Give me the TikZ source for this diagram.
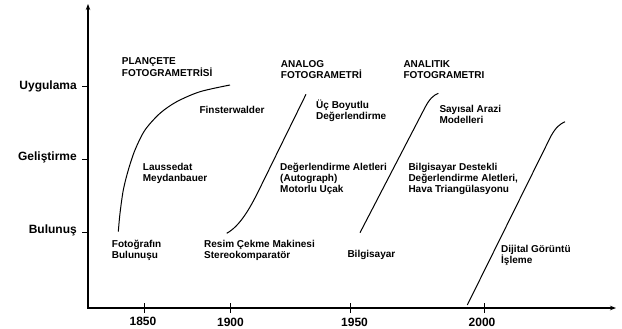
\documentclass[tikz,border=0pt]{standalone}
\usepackage{fontspec}
\setmainfont{Liberation Sans}
\usetikzlibrary{arrows.meta}
\begin{document}
\begin{tikzpicture}[x=1bp,y=-1bp,
  lbl/.style={font=\bfseries\fontsize{10bp}{11bp}\selectfont, anchor=base west, inner sep=0pt, align=left},
  head/.style={font=\bfseries\fontsize{10bp}{10.5bp}\selectfont, anchor=base west, inner sep=0pt, align=left},
  axlbl/.style={font=\bfseries\fontsize{12bp}{14bp}\selectfont, anchor=base east, inner sep=0pt},
  yr/.style={font=\bfseries\fontsize{12bp}{14bp}\selectfont, anchor=base, inner sep=0pt},
  era/.style={line width=1bp},
  axisline/.style={line width=1.3bp, {Stealth[length=6bp,width=4.5bp]}-{Stealth[length=6bp,width=4.5bp]}},
  tickmark/.style={line width=1bp}]
\useasboundingbox (0,0) rectangle (622,328);

% axes
\coordinate (ytop) at (88,4);
\coordinate (O) at (88,308);
\coordinate (xend) at (616,308);
\draw[axisline] (ytop) -- (O) -- (xend);

% y ticks
\foreach \yy in {86.7,159,232} \draw[tickmark] (82,\yy) -- (88,\yy);
% x ticks
\foreach \xx in {144,230.7,350,484} \draw[tickmark] (\xx,303) -- (\xx,313);

% axis labels
\node[axlbl] (uyg) at (77,89) {Uygulama};
\node[axlbl] (gel) at (77,160.5) {Geliştirme};
\node[axlbl] (bul) at (77,233) {Bulunuş};

\node[yr] (y1850) at (143,325.5) {1850};
\node[yr] (y1900) at (230.5,326.3) {1900};
\node[yr] (y1950) at (354.5,326.3) {1950};
\node[yr] (y2000) at (482,326.3) {2000};

% headings (base anchor = baseline of last line)
\node[head] (plan) at (121.7,76) {PLANÇETE\\FOTOGRAMETRİSİ};
\node[head] (analog) at (280.7,78.2) {ANALOG\\FOTOGRAMETRİ};
\node[head] (analitik) at (403.3,78.2) {ANALITIK\\FOTOGRAMETRI};

% inner labels
\node[lbl] (fin) at (199.3,113) {Finsterwalder};
\node[lbl] (ucb) at (316,119) {Üç Boyutlu\\Değerlendirme};
\node[lbl] (say) at (439.3,123.3) {Sayısal Arazi\\Modelleri};
\node[lbl] (lau) at (142.7,181) {Laussedat\\Meydanbauer};
\node[lbl] (deg) at (280,192.3) {Değerlendirme Aletleri\\(Autograph)\\Motorlu Uçak};
\node[lbl] (bds) at (408.3,192.3) {Bilgisayar Destekli\\Değerlendirme Aletleri,\\Hava Triangülasyonu};
\node[lbl] (fot) at (111.7,258) {Fotoğrafın\\Bulunuşu};
\node[lbl] (res) at (204,258) {Resim Çekme Makinesi\\Stereokomparatör};
\node[lbl] (bil) at (347.3,257) {Bilgisayar};
\node[lbl] (dij) at (501,263.5) {Dijital Görüntü\\İşleme};

% era curves
\draw[era] plot[smooth] coordinates {(118.3,231.7) (120,213.3) (123.3,190) (128.3,170) (135,150) (145,130) (160,113.3) (176.7,101.7) (200,91.7) (230,85)};
\draw[era] (226.7,233.3) .. controls (240,226) and (250,208) .. (258,192) -- (306,94.3);
\draw[era] (360,232.7) -- (425,107.5) .. controls (429.5,99) and (433,95.5) .. (438.3,93.3);
\draw[era] (467.3,305) -- (551,136) .. controls (556,127) and (560,124) .. (565,121.7);
\end{tikzpicture}
\end{document}
